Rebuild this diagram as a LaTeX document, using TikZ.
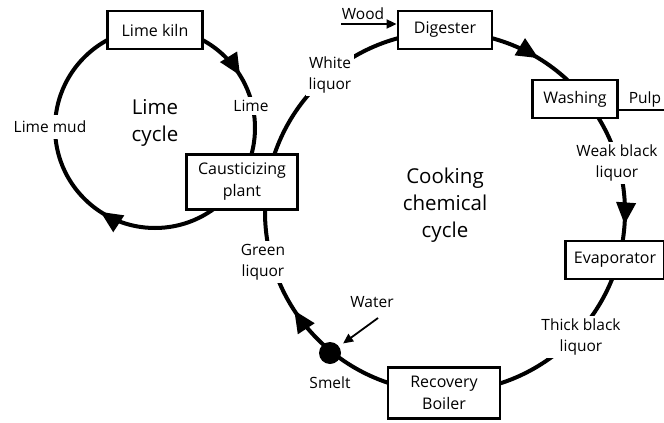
\documentclass[tikz,border=0pt]{standalone}
\usepackage{fontspec}
\setmainfont{Open Sans}
\usetikzlibrary{arrows.meta,decorations.markings,backgrounds}

\tikzset{
  box/.style={draw, line width=2.8pt, fill=white, inner xsep=8pt, inner ysep=9pt,
    minimum height=38pt, align=center, font=\fontsize{16}{22}\selectfont},
  lbl/.style={fill=white, inner sep=3pt, align=center, font=\fontsize{15.5}{21}\selectfont},
  big/.style={align=center, font=\fontsize{20.5}{27}\selectfont},
  flow/.style={line width=4pt},
  thin/.style={line width=1.8pt},
  bigtip/.tip={Triangle[length=22pt,width=19pt]},
  smalltip/.tip={Triangle[length=10pt,width=9pt]},
}

\begin{document}
\begin{tikzpicture}[x=1pt,y=1pt]
    \useasboundingbox (0,0) rectangle (664,-423);

    % 两个圆心
    \coordinate (limec) at (155,-128);
    \coordinate (cookc) at (445,-212);

    % 石灰循环的方框
    \node[box, minimum width=95pt] (kiln) at (155,-30) {Lime kiln};
    \node[box, minimum width=111pt] (caust) at (242,-182) {Causticizing\\plant};

    % 蒸煮循环的方框
    \node[box, minimum width=94pt] (digester) at (445,-30) {Digester};
    \node[box, minimum width=85pt] (washing) at (575,-99) {Washing};
    \node[box, minimum width=97pt] (evap) at (615,-260) {Evaporator};
    \node[box, minimum width=112pt] (boiler) at (444,-393) {Recovery\\Boiler};
    \node[circle, fill, minimum size=22pt, inner sep=0pt] (smelt) at (330,-353) {};

    % 圆上的标注
    \node[lbl] (lime) at (251,-106) {Lime};
    \node[lbl, inner sep=6pt] (limemud) at (50,-127) {Lime mud};
    \node[lbl] (white) at (330,-75) {White\\liquor};
    \node[lbl] (weak) at (617,-163) {Weak black\\liquor};
    \node[lbl] (thick) at (581,-337) {Thick black\\liquor};
    \node[lbl] (green) at (263,-262) {Green\\liquor};
    \node[lbl] (smeltlbl) at (330,-383) {Smelt};

    % 中间的大字
    \node[big] (limecycle) at (155,-123) {Lime\\cycle};
    \node[big] (cookcycle) at (445,-205) {Cooking\\chemical\\cycle};

    % 进出的物料
    \coordinate (woodin) at (341,-24);
    \node[lbl, fill=none] (wood) at (363,-14) {Wood};
    \draw[thin, -{smalltip}] (woodin) -- (digester.west |- woodin);
    \coordinate (pulpout) at (664,-110);
    \node[lbl, fill=none] (pulp) at (645,-99) {Pulp};
    \draw[thin] (washing.east |- pulpout) -- (pulpout);
    \coordinate (waterin) at (378,-318);
    \node[lbl, fill=none] (water) at (372,-302) {Water};
    \draw[thin, -{smalltip}, shorten >=5pt] (waterin) -- (smelt);

    % 画两个循环（放在底层）
    \begin{scope}[on background layer]
        \draw[flow, postaction={decorate}, decoration={markings,
            mark=at position 0.162 with {\arrow{bigtip}},
            mark=at position 0.592 with {\arrow{bigtip}}}]
            (limec) ++(90:100) arc[start angle=90, end angle=-270, radius=100];
        \draw[flow, postaction={decorate}, decoration={markings,
            mark=at position 0.087 with {\arrow{bigtip}},
            mark=at position 0.261 with {\arrow{bigtip}},
            mark=at position 0.658 with {\arrow{bigtip}}}]
            (cookc) ++(90:180) arc[start angle=90, end angle=-270, radius=180];
    \end{scope}
\end{tikzpicture}
\end{document}
